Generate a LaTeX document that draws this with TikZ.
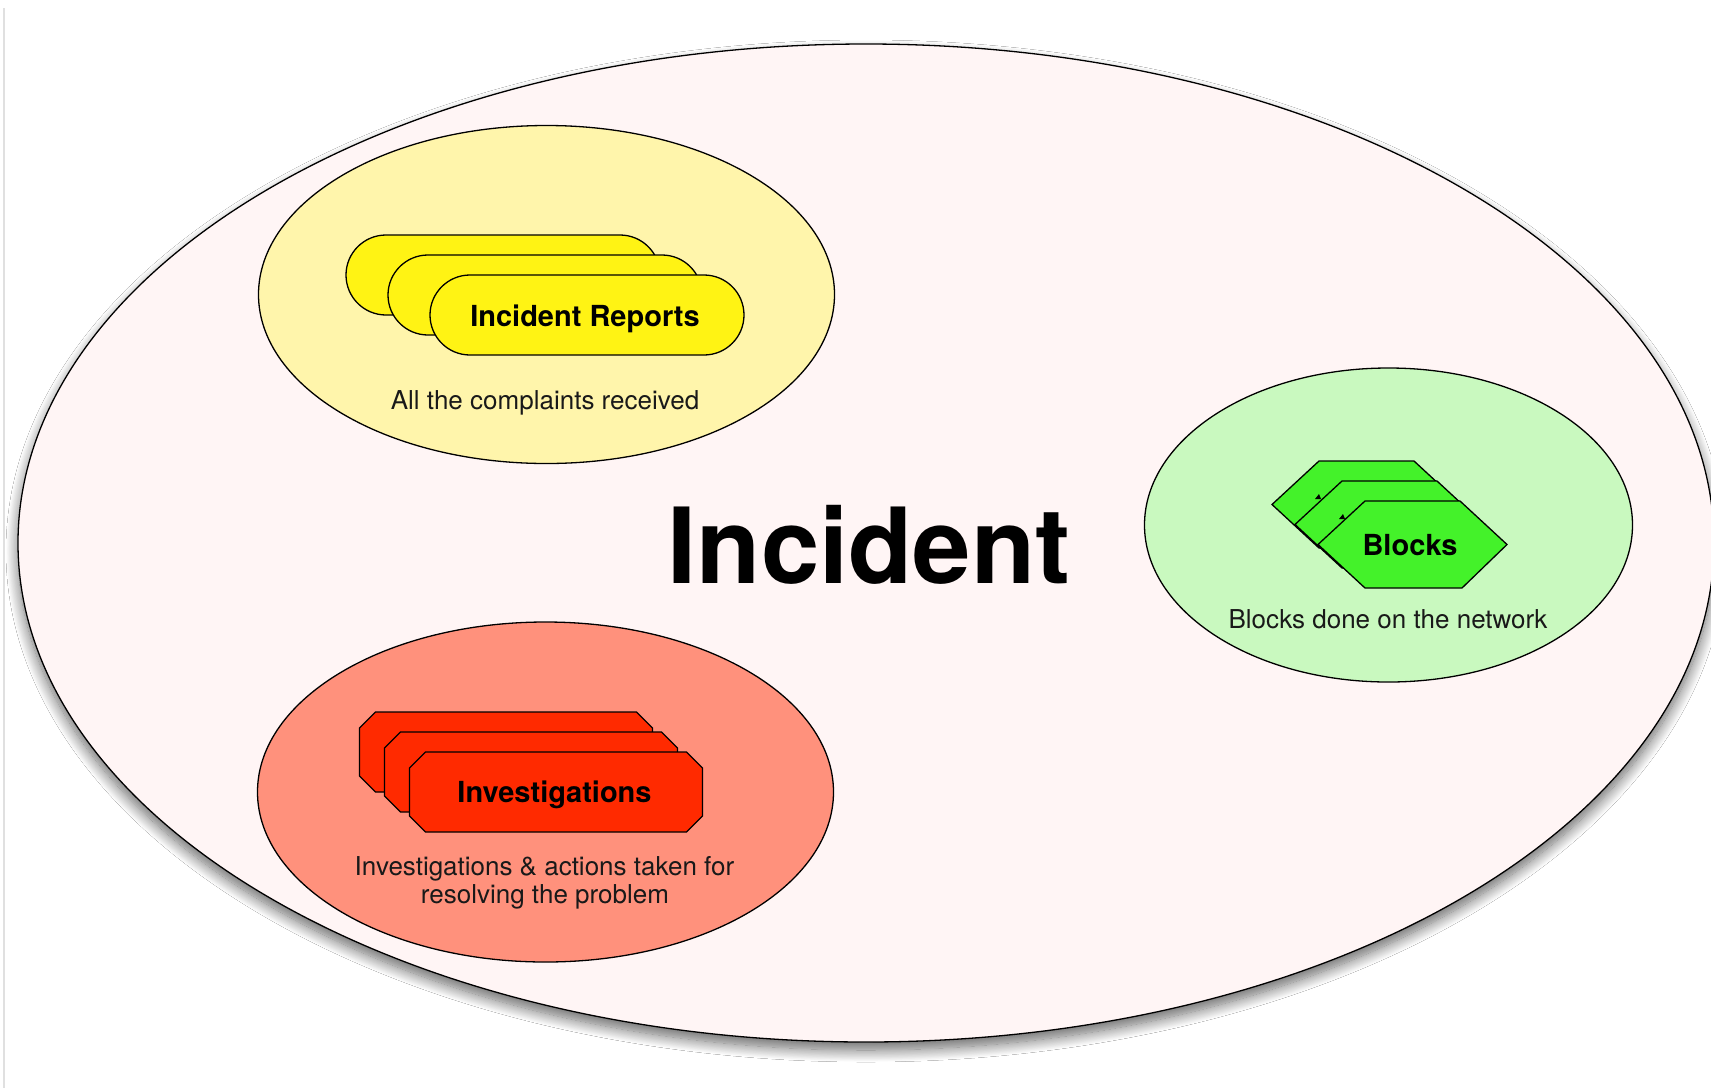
\documentclass[tikz,border=0pt]{standalone}
\usepackage{fontspec}
\setmainfont{TeX Gyre Heros}
\usetikzlibrary{shapes.geometric,shapes.misc,shadows.blur}
\definecolor{bigfill}{HTML}{FFF5F5}
\definecolor{yzone}{HTML}{FFF5AB}
\definecolor{yshape}{HTML}{FFF314}
\definecolor{gzone}{HTML}{C9F9BF}
\definecolor{gshape}{HTML}{44F22A}
\definecolor{rzone}{HTML}{FF917C}
\definecolor{rshape}{HTML}{FF2A00}
\newcommand\myhex[2]{\draw[outl, fill=gshape] (#1-94.5,#2) -- (#1-47.5,#2-43.5) -- (#1+47.5,#2-43.5) -- (#1+94.5,#2) -- (#1+49.5,#2+43.5) -- (#1-47.5,#2+43.5) -- cycle;}
\newcommand\myoct[2]{\draw[outl, fill=rshape] (#1-146.5,#2-24) -- (#1-130.5,#2-40) -- (#1+130.5,#2-40) -- (#1+146.5,#2-24) -- (#1+146.5,#2+24) -- (#1+130.5,#2+40) -- (#1-130.5,#2+40) -- (#1-146.5,#2+24) -- cycle;}
\begin{document}
\begin{tikzpicture}[x=1pt,y=-1pt,
  outl/.style={draw=black, line width=1.3pt},
  zone/.style={ellipse, outl, inner sep=0pt},
  stadium/.style={rounded rectangle, outl, fill=yshape, minimum width=314pt, minimum height=80pt, inner sep=0pt},
  label/.style={font=\fontsize{29}{34}\selectfont\bfseries, anchor=base},
  caption/.style={font=\fontsize{26}{31}\selectfont, text=black!90, anchor=base, align=center}]
\useasboundingbox (0,0) rectangle (1711,1088);
\fill[white] (0,0) rectangle (1711,1088);
\draw[black!12, line width=1.5pt] (4,8) -- (4,1088);
% big ellipse
\node[zone, fill=bigfill, minimum width=1696pt, minimum height=998pt,
  blur shadow={shadow xshift=0pt, shadow yshift=-8pt, shadow blur radius=12pt, shadow blur steps=20, shadow opacity=60}] (big) at (866,543) {};
\node[font=\fontsize{105}{120}\selectfont\bfseries, anchor=base] (title) at (869,583) {Incident};
% yellow zone
\node[zone, fill=yzone, minimum width=576pt, minimum height=338pt] (yz) at (546.5,294.5) {};
\node[stadium] (ir3) at (503,275) {};
\node[stadium] (ir2) at (545,295) {};
\node[stadium] (ir1) at (587,315) {};
\node[label] (irt) at (585,326) {Incident Reports};
\node[caption] (irc) at (545,409) {All the complaints received};
% green zone
\node[zone, fill=gzone, minimum width=488pt, minimum height=314pt] (gz) at (1388.5,525) {};
\myhex{1366.5}{504.5}
\myhex{1389.5}{524.5}
\myhex{1412.5}{544.5}
\fill[black] (1315,499) -- (1321,499) -- (1319,494) -- cycle;
\fill[black] (1339,519) -- (1345,519) -- (1343,514) -- cycle;
\node[label] (blt) at (1410,555) {Blocks};
\node[caption] (blc) at (1388,628) {Blocks done on the network};
% red zone
\node[zone, fill=rzone, minimum width=576pt, minimum height=340pt] (rz) at (545.5,792) {};
\myoct{506}{752}
\myoct{531}{772}
\myoct{556}{792}
\node[label] (ivt) at (554.5,802) {Investigations};
\node[caption] (ivc1) at (544.5,875) {Investigations \& actions taken for};
\node[caption] (ivc2) at (545,903) {resolving the problem};
\end{tikzpicture}
\end{document}
